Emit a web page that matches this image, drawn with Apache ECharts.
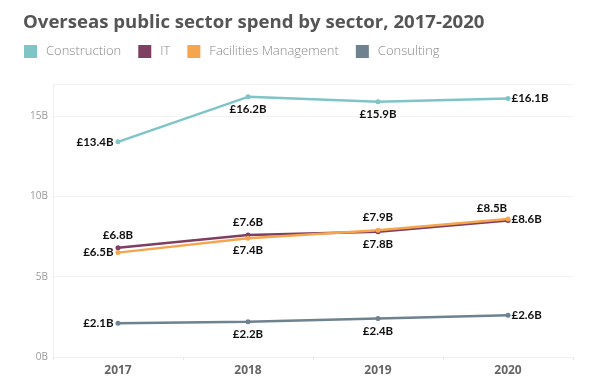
<!DOCTYPE html>
<html>
<head>
<meta charset="utf-8">
<script src="https://cdn.jsdelivr.net/npm/echarts@6/dist/echarts.min.js"></script>
<style>
html,body{margin:0;padding:0;background:#fff;}
#c{width:599px;height:392px;}
</style>
</head>
<body>
<div id="c"></div>
<script>
const years = ['2017', '2018', '2019', '2020'];
const construction = [13.4, 16.2, 15.9, 16.1];
const it = [6.8, 7.6, 7.8, 8.5];
const facilities = [6.5, 7.4, 7.9, 8.6];
const consulting = [2.1, 2.2, 2.4, 2.6];
const yTicks = [0, 5, 10, 15];

const seriesDefs = [
  {name: 'Construction', data: construction, color: '#7fc4c6', pos: ['left', 'bottom', 'bottom', 'right']},
  {name: 'IT', data: it, color: '#7e3f62', pos: ['top', 'top', 'bottom', 'topLeft']},
  {name: 'Facilities Management', data: facilities, color: '#f6a54f', pos: ['left', 'bottom', 'top', 'right']},
  {name: 'Consulting', data: consulting, color: '#6e8290', pos: ['left', 'bottom', 'bottom', 'right']}
];

function labelFor(pos) {
  const base = {show: true, fontFamily: 'Lato', fontWeight: 'bold', fontSize: 11.5, color: '#111',
    formatter: p => '£' + p.value.toFixed(1) + 'B'};
  if (pos === 'left') return Object.assign(base, {position: 'left', distance: 2});
  if (pos === 'right') return Object.assign(base, {position: 'right', distance: 1});
  if (pos === 'top') return Object.assign(base, {position: 'top', distance: 4});
  if (pos === 'bottom') return Object.assign(base, {position: 'bottom', distance: 4});
  if (pos === 'topLeft') return Object.assign(base, {position: 'top', distance: 4, offset: [-16, 0]});
  return base;
}

const chart = echarts.init(document.getElementById('c'));
chart.setOption({
  animation: false,
  title: {
    text: 'Overseas public sector spend by sector, 2017-2020',
    left: 18, top: 8,
    textStyle: {fontFamily: 'Open Sans', fontWeight: 'bold', fontSize: 18.6, color: '#555'}
  },
  legend: {
    left: 19, top: 40,
    icon: 'rect', itemWidth: 13, itemHeight: 13, itemGap: 17,
    textStyle: {fontFamily: 'Open Sans', fontSize: 13, color: '#8a8a8a', fontWeight: 300, padding: [0, 0, 0, 4]},
    data: seriesDefs.map(s => s.name)
  },
  grid: {left: 53, right: 26, top: 84, bottom: 35},
  xAxis: {
    type: 'category',
    data: years,
    boundaryGap: true,
    axisLine: {lineStyle: {color: '#f0f0f0'}},
    axisTick: {show: true, length: 3, lineStyle: {color: '#e8e8e8'}},
    axisLabel: {fontFamily: 'Open Sans', fontWeight: 'bold', fontSize: 12, color: '#666', margin: 8}
  },
  yAxis: {
    type: 'value',
    min: 0, max: 17, interval: 5,
    axisLine: {show: true, lineStyle: {color: '#f0f0f0'}},
    axisTick: {show: false},
    splitLine: {lineStyle: {color: '#f2f2f2'}},
    axisLabel: {
      fontFamily: 'Open Sans', fontSize: 10, color: '#999', margin: 5, showMaxLabel: false,
      formatter: v => yTicks.includes(v) ? v + 'B' : ''
    }
  },
  series: seriesDefs.map(s => ({
    name: s.name,
    type: 'line',
    color: s.color,
    symbol: 'circle',
    symbolSize: 5,
    lineStyle: {width: 2.5, color: s.color},
    itemStyle: {color: s.color},
    data: s.data.map((v, i) => ({value: v, label: labelFor(s.pos[i])}))
  }))
});
</script>
</body>
</html>
